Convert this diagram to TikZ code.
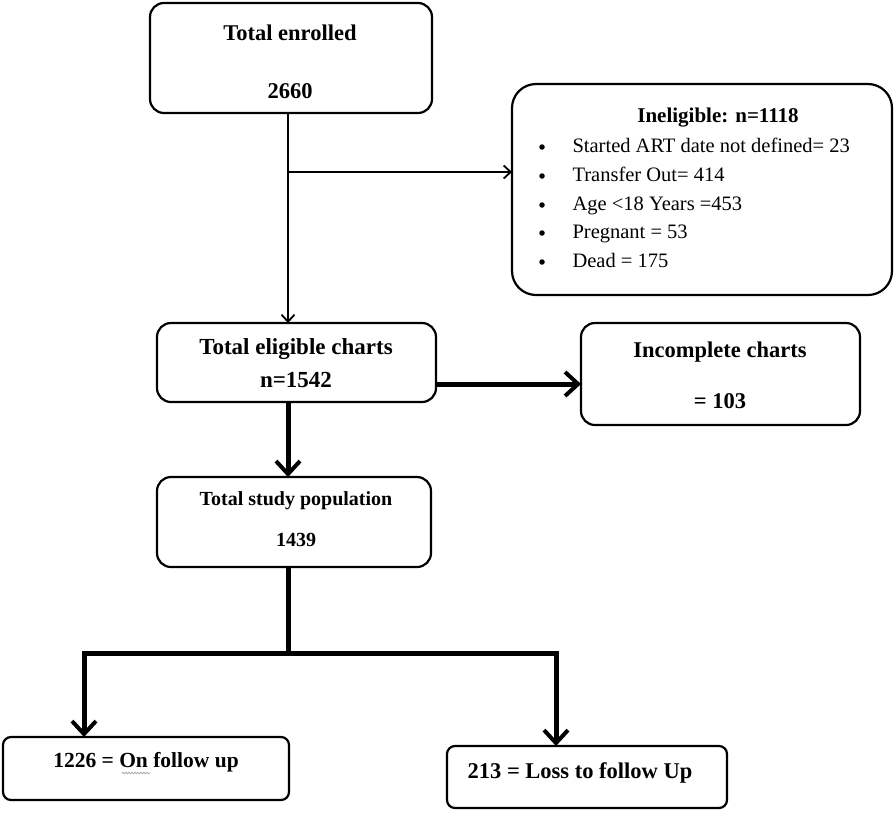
\documentclass[tikz,border=0pt]{standalone}
\usepackage{fontspec}
\setmainfont{Liberation Serif}
\usetikzlibrary{arrows.meta,decorations.pathmorphing}
\begin{document}
\begin{tikzpicture}[x=1pt,y=-1pt,
  box/.style={draw=black,line width=2.2pt,rounded corners=14pt,fill=white},
  thin/.style={line width=1.8pt,-{Straight Barb[length=7pt,width=13pt,line width=1.8pt]}},
  thick/.style={line width=5pt,-{Straight Barb[length=13pt,width=24pt,line width=4pt]}},
  thickline/.style={line width=5pt},
  btxt/.style={font=\bfseries\fontsize{22.5}{26}\selectfont},
  ltxt/.style={font=\fontsize{20.5}{24}\selectfont,anchor=west,text height=14pt,text depth=4pt}
]
\useasboundingbox (0,0) rectangle (896,812);
% boxes
\draw[box] (150,3) rectangle (432,113);
\node[btxt] (b1a) at (290,33) {Total enrolled};
\node[btxt] (b1b) at (290,91) {2660};
\coordinate (b1s) at (288,113);

\draw[box,rounded corners=24pt] (512,84) rectangle (892,295);
\coordinate (b2w) at (512,172);
\node[btxt,font=\bfseries\fontsize{21}{24}\selectfont] (t2) at (718,118) {Ineligible: n=1118};
\foreach \yy/\tt [count=\i] in {147/Started ART date not defined= 23, 176/Transfer Out= 414, 205/Age <18 Years =453, 233/Pregnant = 53, 262/Dead = 175}{
  \node[circle,fill=black,inner sep=0pt,minimum size=5.5pt] (bul\i) at (542,\yy) {};
  \node[ltxt] (it\i) at (569,\yy) {\tt};
}

\draw[box] (157,323) rectangle (436,402);
\node[btxt,font=\bfseries\fontsize{23}{26}\selectfont] (b3a) at (296,349) {Total eligible charts};
\node[btxt,font=\bfseries\fontsize{23}{26}\selectfont] (b3b) at (296,380) {n=1542};
\coordinate (b3n) at (288,323);
\coordinate (b3e) at (436,384);
\coordinate (b3s) at (288,402);

\draw[box] (581,323) rectangle (860,425);
\node[btxt] (b4a) at (720,352) {Incomplete charts};
\node[btxt] (b4b) at (720,401) {= 103};
\coordinate (b4w) at (581,384);

\draw[box] (157,477) rectangle (431,567);
\node[btxt,font=\bfseries\fontsize{20}{24}\selectfont] (b5a) at (296,501) {Total study population};
\node[btxt,font=\bfseries\fontsize{20}{24}\selectfont] (b5b) at (296,540) {1439};
\coordinate (b5n) at (288,477);
\coordinate (b5s) at (288,567);

\draw[box,rounded corners=8pt] (3,737) rectangle (289,800);
\node[btxt,font=\bfseries\fontsize{21.5}{24}\selectfont] (b6) at (146,762) {1226 = On follow up};
\draw[gray!70,line width=0.7pt,decorate,decoration={snake,amplitude=0.9pt,segment length=3pt}] (122,773) -- (150,773);
\coordinate (b6n) at (84,737);

\draw[box,rounded corners=8pt] (447,746) rectangle (727,808);
\node[btxt] (b7) at (580,773) {213 = Loss to follow Up};
\coordinate (b7n) at (556,746);

% connectors
\draw[thin] (b1s) -- (b3n);
\coordinate (j1) at (288,172);
\draw[thin] (j1) -- (b2w);
\draw[thick] (b3e) -- (b4w);
\draw[thick] (b3s) -- (b5n);
\coordinate (j2) at (288,653);
\coordinate (jl) at (84,653);
\coordinate (jr) at (556,653);
\draw[thickline] (b5s) -- (j2);
\draw[thick] (jl) -- (b6n);
\draw[thick] (jr) -- (b7n);
\draw[thickline,line cap=rect] (jl) -- (jr);
\end{tikzpicture}
\end{document}
